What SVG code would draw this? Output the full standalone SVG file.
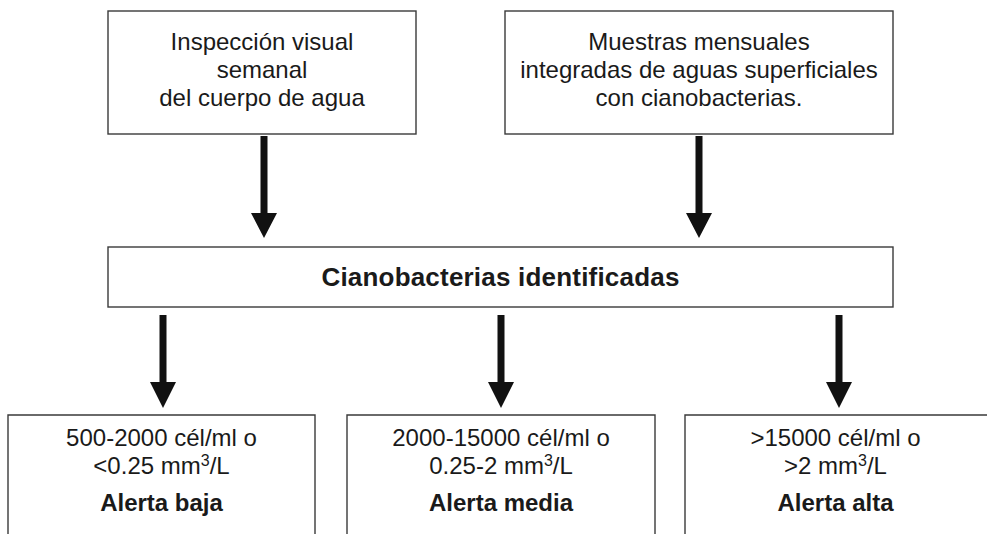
<svg xmlns="http://www.w3.org/2000/svg" width="987" height="534" viewBox="0 0 987 534">
<style>
.box{fill:#fff;stroke:#3a3a3a;stroke-width:1.4}
.t{font-family:"Liberation Sans",Arial,sans-serif;font-size:24px;fill:#1a1a1a;text-anchor:middle}
.b{font-weight:bold}
.arr{fill:#111}
</style>
<rect width="987" height="534" fill="#fff"/>
<g id="connectors">
<polygon class="arr" points="260.5,136 267.5,136 267.5,213 277,213 264,238 251,213 260.5,213"/>
<polygon class="arr" points="695.5,136 702.5,136 702.5,213 712,213 699,238 686,213 695.5,213"/>
<polygon class="arr" points="159.5,315 166.5,315 166.5,382 176,382 163,408 150,382 159.5,382"/>
<polygon class="arr" points="497.5,315 504.5,315 504.5,382 514,382 501,408 488,382 497.5,382"/>
<polygon class="arr" points="835.5,315 842.5,315 842.5,382 852,382 839,408 826,382 835.5,382"/>
</g>
<g id="inspeccion">
<rect class="box" x="108" y="11" width="308" height="123"/>
<text class="t" x="262" y="50">Inspección visual</text>
<text class="t" x="262" y="78">semanal</text>
<text class="t" x="262" y="106">del cuerpo de agua</text>
</g>
<g id="muestras">
<rect class="box" x="505" y="11" width="388" height="123"/>
<text class="t" x="699" y="50">Muestras mensuales</text>
<text class="t" x="699" y="78">integradas de aguas superficiales</text>
<text class="t" x="699" y="106">con cianobacterias.</text>
</g>
<g id="cianobacterias">
<rect class="box" x="108" y="247" width="785" height="60"/>
<text class="t b" x="500.5" y="286" style="font-size:26px;letter-spacing:0.2px">Cianobacterias identificadas</text>
</g>
<g id="alerta-baja">
<path class="box" d="M8,540 V415 H315 V540"/>
<text class="t" x="161.5" y="446">500-2000 cél/ml o</text>
<text class="t" x="161.5" y="474">&lt;0.25 mm<tspan dy="-8" font-size="16">3</tspan><tspan dy="8">/L</tspan></text>
<text class="t b" x="161.5" y="511">Alerta baja</text>
</g>
<g id="alerta-media">
<path class="box" d="M347,540 V415 H655 V540"/>
<text class="t" x="501" y="446">2000-15000 cél/ml o</text>
<text class="t" x="501" y="474">0.25-2 mm<tspan dy="-8" font-size="16">3</tspan><tspan dy="8">/L</tspan></text>
<text class="t b" x="501" y="511">Alerta media</text>
</g>
<g id="alerta-alta">
<path class="box" d="M685,540 V415 H995"/>
<text class="t" x="835.5" y="446">&gt;15000 cél/ml o</text>
<text class="t" x="835.5" y="474">&gt;2 mm<tspan dy="-8" font-size="16">3</tspan><tspan dy="8">/L</tspan></text>
<text class="t b" x="835.5" y="511">Alerta alta</text>
</g>
</svg>
